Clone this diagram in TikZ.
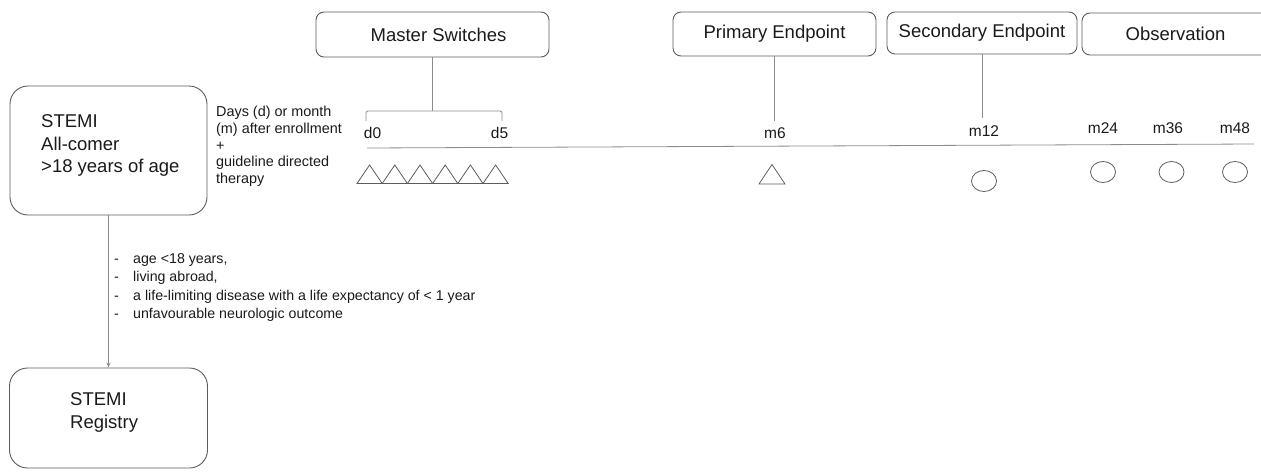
\documentclass[tikz,border=0pt]{standalone}
\usepackage{fontspec}
\setmainfont{Liberation Sans}
\usetikzlibrary{arrows.meta,shapes.geometric}
\definecolor{boxgray}{HTML}{5C5C5C}
\definecolor{linegray}{HTML}{8C8C8C}
\definecolor{txt}{HTML}{1A1A1A}
\begin{document}
\begin{tikzpicture}[x=1pt,y=-1pt,
  topbox/.style={draw=boxgray, line width=0.9pt, rounded corners=8pt, inner sep=0pt,
    font=\fontsize{18.5}{22}\selectfont, text=txt},
  bigbox/.style={draw=boxgray, line width=0.9pt, rounded corners=18pt, inner sep=0pt},
  bigtxt/.style={font=\fontsize{18.5}{22.5}\selectfont, align=left, inner sep=0pt, anchor=west, text=txt},
  smalltxt/.style={font=\fontsize{14.4}{16.7}\selectfont, align=left, inner sep=0pt, anchor=west, text=txt},
  listtxt/.style={font=\fontsize{14.2}{18.3}\selectfont, align=left, inner sep=0pt, anchor=west, text=txt},
  tl/.style={font=\fontsize{15.5}{18}\selectfont, inner sep=0pt, text=txt},
  conn/.style={draw=linegray, line width=0.8pt},
  tri/.style={draw=boxgray, line width=0.8pt, line join=miter},
  circ/.style={draw=boxgray, line width=0.8pt, ellipse, minimum width=25pt, minimum height=21pt, inner sep=0pt}
]
\useasboundingbox (0,0) rectangle (1261,472);
\clip (0,0) rectangle (1261,472);

% left boxes
\node[bigbox, minimum width=197pt, minimum height=129pt] (stemi) at (108.5,150.5) {};
\node[bigtxt] (stemitxt) at (41,145.5) {STEMI\\All-comer\\>18 years of age};
\node[bigbox, minimum width=198pt, minimum height=100pt] (reg) at (108.5,418) {};
\node[bigtxt] (regtxt) at (70,412.5) {STEMI\\Registry};
\draw[conn, -{Stealth[length=5pt,width=4pt]}] (stemi) -- (reg);

\node[listtxt] (excl) at (114,287.5) {\makebox[19pt][l]{-}age <18 years,\\
\makebox[19pt][l]{-}living abroad,\\
\makebox[19pt][l]{-}a life-limiting disease with a life expectancy of < 1 year\\
\makebox[19pt][l]{-}unfavourable neurologic outcome};

\node[smalltxt] (desc) at (216,146.5) {Days (d) or month\\(m) after enrollment\\+\\guideline directed\\therapy};

% top boxes
\node[topbox, minimum width=233pt, minimum height=45pt] (ms) at (432.5,34.5) {\hspace*{12pt}Master Switches};
\node[topbox, minimum width=203pt, minimum height=44pt] (pe) at (774.5,34) {Primary Endpoint};
\node[topbox, minimum width=190pt, minimum height=42pt] (se) at (982,33) {Secondary Endpoint};
\node[topbox, minimum width=190pt, minimum height=42pt] (ob) at (1177,34) {\hspace*{-3pt}Observation};

% connectors from top boxes
\coordinate (brk) at (432.5,111);
\draw[conn] (ms.south) -- (brk);
\draw[conn, rounded corners=2pt] (366,121) -- (366,111) -- (502,111) -- (502,121);
\coordinate (m6top) at (774.5,121);
\draw[conn] (pe.south) -- (m6top);
\coordinate (m12top) at (982,118);
\draw[conn] (se.south) -- (m12top);

% timeline
\coordinate (tlA) at (367,148);
\coordinate (tlB) at (1254,144);
\draw[conn] (tlA) -- (tlB);

% labels
\node[tl] (d0) at (372.5,133) {d0};
\node[tl] (d5) at (499.5,133) {d5};
\node[tl] (m6) at (775,133) {m6};
\node[tl] (m12) at (984,131) {m12};
\node[tl] (m24) at (1103,128) {m24};
\node[tl] (m36) at (1168,128) {m36};
\node[tl] (m48) at (1235,128) {m48};

% triangles
\foreach \i in {0,...,5}{
  \draw[tri] ({357+25.2*\i},183.5) -- ({369.6+25.2*\i},165) -- ({382.2+25.2*\i},183.5) -- cycle;
}
\draw[tri] (759,184) -- (772,164.5) -- (785,184) -- cycle;

% circles
\node[circ] (c12) at (984,181) {};
\node[circ] (c24) at (1103,172) {};
\node[circ] (c36) at (1171.5,172) {};
\node[circ] (c48) at (1235,172) {};
\end{tikzpicture}
\end{document}
